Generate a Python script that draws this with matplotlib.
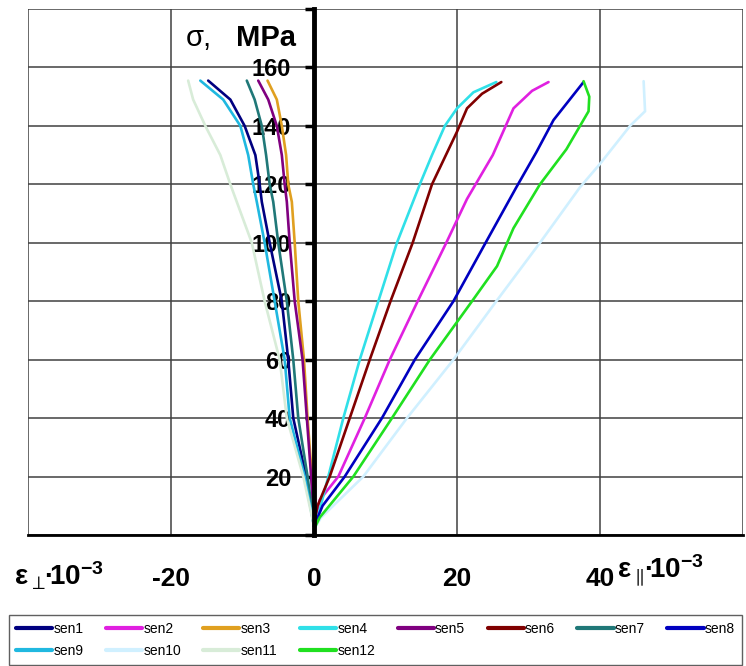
import numpy as np
import matplotlib.pyplot as plt

plt.rcParams['font.family'] = ['Liberation Sans', 'DejaVu Sans']
plt.rcParams['mathtext.fontset'] = 'custom'
plt.rcParams['mathtext.rm'] = 'Liberation Sans:bold'
plt.rcParams['mathtext.default'] = 'rm'
plt.rcParams['mathtext.fallback'] = 'stixsans'

# sensor data: strain (x 10^-3) vs stress (MPa)
sen1_x = [0, -1.1, -2.9, -3.6, -4.5, -6.2, -7.3, -7.6, -8.2, -9.7, -11.7, -14.8]
sen1_y = [3, 20, 40, 60, 80, 100, 114, 120, 130, 140, 149, 155.5]
sen9_x = [0, -1.3, -3.4, -4.1, -5.5, -6.9, -8.0, -8.5, -9.2, -10.3, -12.7, -15.9]
sen9_y = [3, 20, 40, 60, 80, 100, 114, 120, 130, 140, 149, 155.5]
sen11_x = [0, -1.5, -3.8, -4.8, -6.9, -8.7, -10.8, -11.7, -13.1, -15.2, -16.9, -17.6]
sen11_y = [3, 20, 40, 60, 80, 100, 114, 120, 130, 140, 149, 155.5]
sen7_x = [0, -0.9, -2.2, -2.9, -3.8, -5.0, -5.7, -6.2, -6.7, -7.3, -8.3, -9.4]
sen7_y = [3, 20, 40, 60, 80, 100, 114, 120, 130, 140, 149, 155.5]
sen5_x = [0, -0.4, -1.0, -1.6, -2.7, -3.4, -3.8, -4.1, -4.5, -5.2, -6.4, -7.8]
sen5_y = [3, 20, 40, 60, 80, 100, 114, 120, 130, 140, 149, 155.5]
sen3_x = [0, -0.3, -0.9, -1.4, -2.2, -2.7, -3.1, -3.6, -3.9, -4.5, -5.2, -6.5]
sen3_y = [3, 20, 40, 60, 80, 100, 114, 120, 130, 140, 149, 155.5]

sen4_x = [0.2, 2.0, 4.1, 6.4, 9.0, 11.6, 14.8, 16.5, 18.3, 20.0, 22.3, 25.5]
sen4_y = [3, 20, 40, 60, 80, 100, 120, 130, 140, 146, 151.5, 155]
sen6_x = [0, 0.5, 2.2, 5.0, 7.8, 10.7, 13.8, 16.5, 20.0, 21.4, 23.5, 26.2]
sen6_y = [4, 10, 20, 40, 60, 80, 100, 120, 138, 146, 151, 155]
sen2_x = [0, 0.8, 3.4, 7.1, 10.6, 14.5, 18.5, 21.4, 25.0, 27.9, 30.5, 32.8]
sen2_y = [4, 12, 20, 40, 60, 80, 100, 115, 130, 146, 152, 155]
sen8_x = [0, 1.2, 4.3, 9.5, 14.1, 19.5, 24.0, 28.3, 31.1, 33.5, 37.7]
sen8_y = [3, 10, 20, 40, 60, 80, 100, 119, 131, 142, 155]
sen12_x = [0, 0.8, 5.5, 10.9, 16.2, 22.1, 25.6, 27.9, 31.6, 35.3, 38.4, 38.5, 37.7]
sen12_y = [2, 6, 20, 40, 60, 80, 92, 105, 120, 132, 145, 150, 155.3]
sen10_x = [0, 1.0, 6.9, 13.0, 19.5, 25.5, 31.6, 37.2, 40.0, 44.2, 46.3, 46.1]
sen10_y = [2, 6, 20, 40, 60, 80, 100, 119, 127, 140, 145, 155.3]

series = [
    ('sen1', sen1_x, sen1_y, '#000080'),
    ('sen2', sen2_x, sen2_y, '#e020e0'),
    ('sen3', sen3_x, sen3_y, '#e0a020'),
    ('sen4', sen4_x, sen4_y, '#30e0e8'),
    ('sen5', sen5_x, sen5_y, '#800080'),
    ('sen6', sen6_x, sen6_y, '#800000'),
    ('sen7', sen7_x, sen7_y, '#207878'),
    ('sen8', sen8_x, sen8_y, '#0000c0'),
    ('sen9', sen9_x, sen9_y, '#20b8e0'),
    ('sen10', sen10_x, sen10_y, '#d0f0ff'),
    ('sen11', sen11_x, sen11_y, '#d8ecd8'),
    ('sen12', sen12_x, sen12_y, '#20e020'),
]

fig = plt.figure(figsize=(7.46, 6.66), dpi=100)
ax = fig.add_axes([28/746, 1-535/666, 715/746, 526/666])

lines = []
for name, xs, ys, c in series:
    ln, = ax.plot(xs, ys, color=c, lw=1.9, label=name, solid_capstyle='round')
    lines.append(ln)

ax.set_xlim(-40, 60)
ax.set_ylim(0, 180)

for s in ['top', 'right']:
    ax.spines[s].set_visible(False)
ax.spines['left'].set_position(('data', 0))
ax.spines['left'].set_linewidth(3.5)
ax.spines['left'].set_zorder(5)
ax.spines['bottom'].set_linewidth(2)

xt = np.arange(-40, 61, 20)
ax.set_xticks(xt)
ax.set_xticklabels(['', '-20', '0', '20', '40', ''], fontsize=19,
                   fontweight='bold')
yt = np.arange(0, 181, 20)
ax.set_yticks(yt)
ax.set_yticklabels([''] + [str(v) for v in yt[1:-1]] + [''], fontsize=17,
                   fontweight='bold')

ax.grid(True, color='#404040', lw=1.1)
ax.set_axisbelow(True)
ax.tick_params(axis='x', length=0, pad=23)
ax.tick_params(axis='y', length=6.5, width=2.5, pad=10, direction='out')

# axis titles
fig.text(186/746, 1-38/666, 'σ,', fontsize=21, va='center')
fig.text(236/746, 1-38/666, 'MPa', fontsize=21, fontweight='bold', va='center')
fig.text(14/746, 1-576/666, r'$ε_{\perp}\!·\!10^{-3}$', fontsize=20, va='center')
fig.text(617/746, 1-571/666, r'$ε_{\parallel}\!·\!10^{-3}$', fontsize=20, va='center')

# matplotlib fills legend columns first, reorder so rows read sen1..sen8, sen9..sen12
order = [0, 8, 1, 9, 2, 10, 3, 11, 4, 5, 6, 7]
leg = fig.legend(handles=[lines[i] for i in order], ncol=8, loc='upper left',
                 bbox_to_anchor=(9/746, 1-615/666, 733/746, 0), mode='expand',
                 borderaxespad=0, fontsize=10, handlelength=2.6,
                 handletextpad=0.1, labelspacing=0.55, borderpad=0.5,
                 fancybox=False, edgecolor='#606060', framealpha=1)
leg.get_frame().set_linewidth(1.0)
for h in leg.legend_handles:
    h.set_linewidth(3)

fig.savefig('out.png', dpi=100)
